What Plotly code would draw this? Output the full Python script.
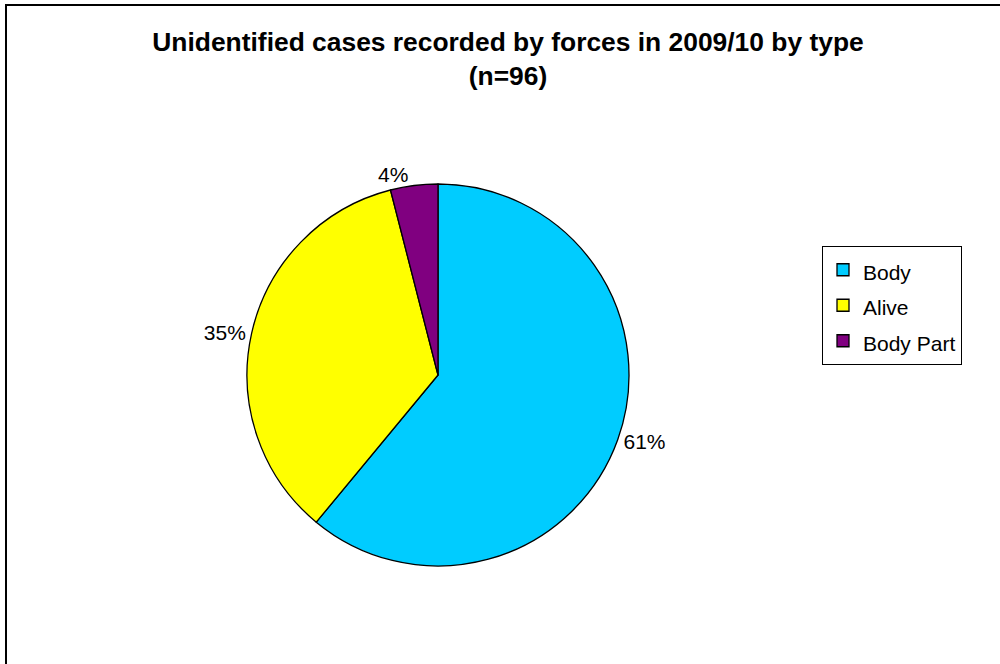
import plotly.graph_objects as go

# Data
categories = ["Body", "Alive", "Body Part"]
values = [61, 35, 4]
colors = ["#00CCFF", "#FFFF00", "#800080"]
title_lines = ["Unidentified cases recorded by forces in 2009/10 by type", "(n=96)"]

W, H = 1000, 664
cx, cy, r = 438, 375, 191

legend_labels = [f'<span style="font-size:21px">{c}</span>' for c in categories]

fig = go.Figure(go.Pie(
    labels=legend_labels,
    values=values,
    sort=False,
    direction="clockwise",
    rotation=0,
    marker=dict(colors=colors, line=dict(color="black", width=1.3)),
    textinfo="percent",
    texttemplate="%{percent:.0%}",
    textposition="outside",
    outsidetextfont=dict(size=21, color="black", family="Liberation Sans, Arial"),
    domain=dict(x=[(cx - r) / W, (cx + r) / W], y=[(H - cy - r) / H, (H - cy + r) / H]),
    hoverinfo="label+percent",
))

fig.update_layout(
    width=W, height=H,
    margin=dict(l=0, r=0, t=0, b=0),
    paper_bgcolor="white",
    font=dict(family="Liberation Sans, Arial", color="black"),
    title=dict(
        text="<br>".join(f"<b>{t}</b>" for t in title_lines),
        font=dict(size=26.4, family="Liberation Sans, Arial", color="black"),
        x=0.508, xanchor="center", xref="container",
        y=1 - 51 / H, yanchor="top", yref="container",
    ),
    legend=dict(
        x=0.822, xanchor="left", y=1 - 246 / H, yanchor="top",
        bordercolor="black", borderwidth=1,
        font=dict(size=25, family="Liberation Sans, Arial", color="black"),
        bgcolor="white",
    ),
    shapes=[dict(type="rect", xref="paper", yref="paper",
                 x0=6 / W, x1=1.02, y0=-0.05, y1=1 - 5 / H,
                 line=dict(color="black", width=2), fillcolor="rgba(0,0,0,0)")],
)

fig.write_html("out.html")
